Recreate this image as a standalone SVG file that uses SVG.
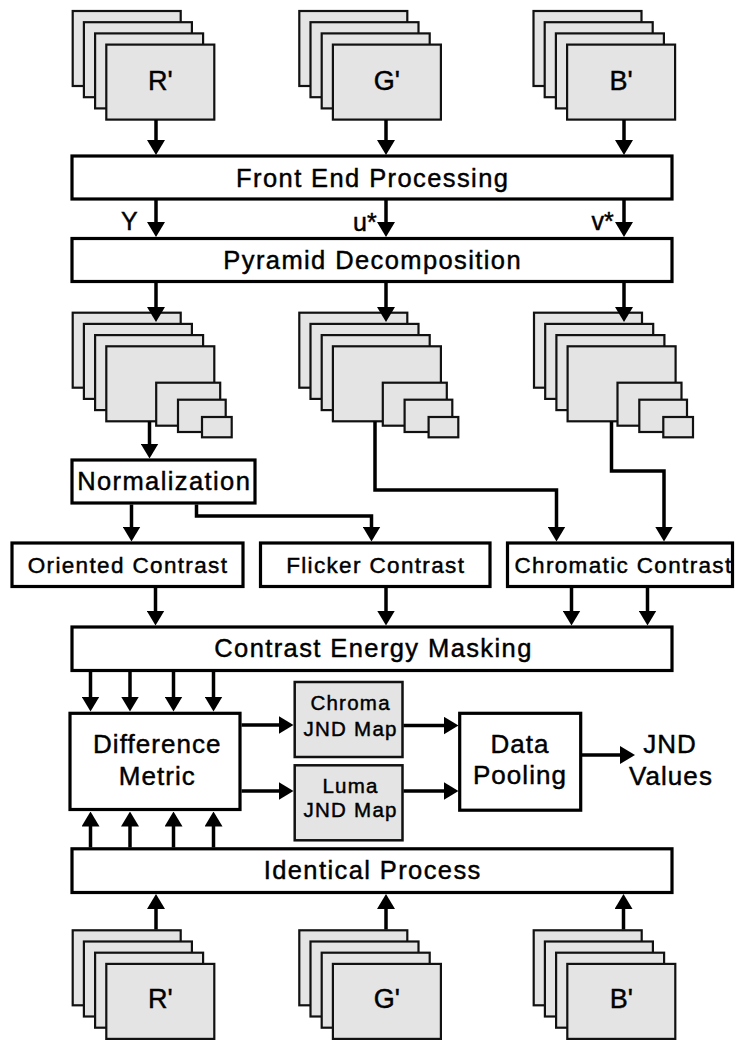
<svg xmlns="http://www.w3.org/2000/svg" xmlns:xlink="http://www.w3.org/1999/xlink" width="735" height="1040" viewBox="0 0 735 1040">
<style>
.box{fill:#fff;stroke:#000;stroke-width:3.2}
.frame{fill:#e4e4e4;stroke:#111;stroke-width:2.2}
.map{fill:#e4e4e4;stroke:#111;stroke-width:2.5}
.conn{fill:none;stroke:#000;stroke-width:3.5;marker-end:url(#ah)}
text{font-family:"Liberation Sans",Arial,Helvetica,sans-serif;fill:#000;stroke:#000;stroke-width:0.45px}
.big{font-size:25.5px;letter-spacing:1.4px;text-anchor:middle}
.mid{font-size:22.5px;letter-spacing:1.35px;text-anchor:middle}
.sm{font-size:20.5px;letter-spacing:1.25px;text-anchor:middle}
.dm{font-size:26px;letter-spacing:1.05px;text-anchor:middle}
.ch{font-size:27px;text-anchor:middle}
.lbl{font-size:25px}
</style>
<defs>
<marker id="ah" viewBox="0 0 15 18" refX="5" refY="9" markerWidth="15" markerHeight="18" markerUnits="userSpaceOnUse" orient="auto">
<path d="M0,0 L15,9 L0,18 z" fill="#000"/>
</marker>
<g id="stk">
<rect class="frame" x="0" y="0" width="108" height="75"/>
<rect class="frame" x="11.2" y="11.2" width="108" height="75"/>
<rect class="frame" x="22.4" y="22.4" width="108" height="75"/>
<rect class="frame" x="33.6" y="33.6" width="108" height="75"/>
</g>
<g id="pyr">
<use xlink:href="#stk" href="#stk"/>
<rect class="frame" x="83.5" y="70" width="64" height="43"/>
<rect class="frame" x="105.3" y="87" width="47.7" height="32.3"/>
<rect class="frame" x="129.3" y="104.3" width="29.7" height="20.3"/>
</g>
</defs>

<g id="input-r-top"><use href="#stk" x="72.7" y="11"/><text class="ch" x="160.3" y="90">R'</text></g>
<g id="input-g-top"><use href="#stk" x="299.3" y="11"/><text class="ch" x="386.9" y="90">G'</text></g>
<g id="input-b-top"><use href="#stk" x="533.5" y="11"/><text class="ch" x="621.1" y="90">B'</text></g>

<g id="front-end"><rect class="box" x="72" y="156" width="600" height="43"/><text class="big" x="372.7" y="186.5">Front End Processing</text></g>
<g id="pyramid"><rect class="box" x="72" y="238.5" width="600" height="43"/><text class="big" x="372.7" y="269">Pyramid Decomposition</text></g>

<g id="pyr-y"><use href="#pyr" x="72.7" y="312.7"/></g>
<g id="pyr-u"><use href="#pyr" x="299.3" y="312.7"/></g>
<g id="pyr-v"><use href="#pyr" x="534" y="312.7"/></g>

<g id="normalization"><rect class="box" x="72" y="460" width="183" height="43"/><text class="big" x="164.2" y="489.5">Normalization</text></g>
<g id="oriented"><rect class="box" x="12" y="543" width="231" height="43.5"/><text class="mid" x="128" y="573">Oriented Contrast</text></g>
<g id="flicker"><rect class="box" x="260.5" y="543" width="229.5" height="43.5"/><text class="mid" x="375.7" y="573">Flicker Contrast</text></g>
<g id="chromatic"><rect class="box" x="507.5" y="543" width="225" height="43.5"/><text class="mid" x="623.5" y="573">Chromatic Contrast</text></g>

<g id="masking"><rect class="box" x="72" y="627" width="600" height="43.5"/><text class="big" x="373.5" y="657">Contrast Energy Masking</text></g>

<g id="difference"><rect class="box" x="70" y="713.3" width="170" height="96.2"/><text class="dm" x="157.3" y="752.7">Difference</text><text class="dm" x="157.3" y="785">Metric</text></g>
<g id="chroma-map"><rect class="map" x="294.7" y="682" width="107.8" height="75"/><text class="sm" x="350.6" y="710">Chroma</text><text class="sm" x="350.6" y="736">JND Map</text></g>
<g id="luma-map"><rect class="map" x="294.7" y="765.3" width="107.8" height="75"/><text class="sm" x="350.6" y="793.3">Luma</text><text class="sm" x="350.6" y="816.7">JND Map</text></g>
<g id="pooling"><rect class="box" x="459.7" y="713.3" width="121" height="96.9"/><text class="dm" x="520" y="752.7">Data</text><text class="dm" x="520" y="784">Pooling</text></g>
<g id="jnd-values"><text class="dm" x="670" y="752.7">JND</text><text class="dm" x="671" y="784.5">Values</text></g>

<g id="identical"><rect class="box" x="72" y="848.8" width="600" height="43.7"/><text class="big" x="372.7" y="878.5">Identical Process</text></g>

<g id="input-r-bottom"><use href="#stk" x="72.7" y="930.3"/><text class="ch" x="160.3" y="1008.3">R'</text></g>
<g id="input-g-bottom"><use href="#stk" x="299.3" y="930.3"/><text class="ch" x="386.9" y="1008.3">G'</text></g>
<g id="input-b-bottom"><use href="#stk" x="533.7" y="930.3"/><text class="ch" x="621.3" y="1008.3">B'</text></g>

<g id="channel-labels">
<text class="lbl" x="121" y="229.5">Y</text>
<text class="lbl" x="353" y="231">u*</text>
<text class="lbl" x="591.5" y="230">v*</text>
</g>

<g id="connectors">
<path class="conn" d="M156,120 V145"/>
<path class="conn" d="M386,120 V145"/>
<path class="conn" d="M624,120 V145"/>
<path class="conn" d="M156,200 V227"/>
<path class="conn" d="M386,200 V227"/>
<path class="conn" d="M624,200 V227"/>
<path class="conn" d="M156,283 V312"/>
<path class="conn" d="M386,283 V312"/>
<path class="conn" d="M624,283 V312"/>
<path class="conn" d="M149.5,421.5 V448.5"/>
<path class="conn" d="M131.5,504.5 V531.5"/>
<path class="conn" d="M196.5,504.5 V516 H371.5 V531.5"/>
<path class="conn" d="M375,421.5 V490 H556.5 V531.5"/>
<path class="conn" d="M611.5,421.5 V471 H664 V531.5"/>
<path class="conn" d="M155.5,588 V615.5"/>
<path class="conn" d="M386,588 V615.5"/>
<path class="conn" d="M571.5,588 V615.5"/>
<path class="conn" d="M647.5,588 V615.5"/>
<path class="conn" d="M90.5,672 V701.5"/>
<path class="conn" d="M130,672 V701.5"/>
<path class="conn" d="M173.5,672 V701.5"/>
<path class="conn" d="M213.5,672 V701.5"/>
<path class="conn" d="M90.5,847.5 V821.5"/>
<path class="conn" d="M130,847.5 V821.5"/>
<path class="conn" d="M173.5,847.5 V821.5"/>
<path class="conn" d="M213.5,847.5 V821.5"/>
<path class="conn" d="M241.5,725 H283.5"/>
<path class="conn" d="M241.5,791 H283.5"/>
<path class="conn" d="M403.5,725.5 H448.5"/>
<path class="conn" d="M403.5,791 H448.5"/>
<path class="conn" d="M582,755 H625"/>
<path class="conn" d="M156,929.5 V904"/>
<path class="conn" d="M386,929.5 V904"/>
<path class="conn" d="M623.5,929.5 V904"/>
</g>
</svg>
